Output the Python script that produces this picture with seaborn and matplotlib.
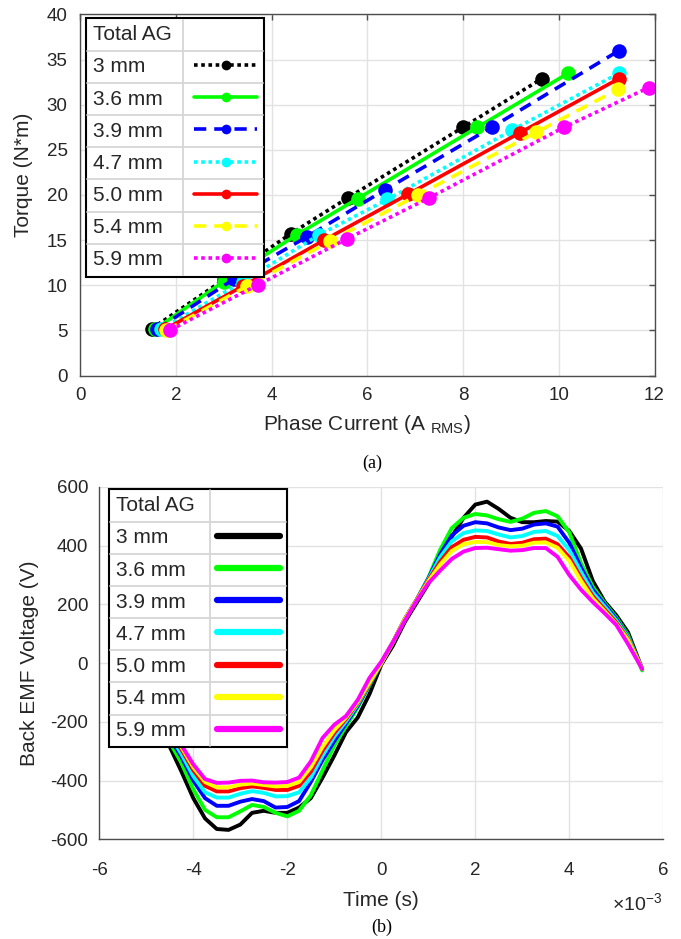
import numpy as np
import pandas as pd
import matplotlib
matplotlib.use("Agg")
import matplotlib.pyplot as plt
from matplotlib.lines import Line2D
from matplotlib.ticker import MultipleLocator, FuncFormatter
import seaborn as sns

# ---------------- data ----------------
series_labels = ["3 mm", "3.6 mm", "3.9 mm", "4.7 mm", "5.0 mm", "5.4 mm", "5.9 mm"]
series_colors = ["#000000", "#00ff00", "#0000ff", "#00ffff", "#ff0000", "#ffff00", "#ff00ff"]

# (a) torque vs phase current
current_3mm = [1.50, 3.00, 4.40, 5.60, 8.00, 9.65]
torque_3mm = [5.2, 10.6, 15.7, 19.7, 27.5, 32.9]
current_36mm = [1.56, 3.00, 4.53, 5.80, 8.30, 10.20]
torque_36mm = [5.1, 10.4, 15.6, 19.6, 27.5, 33.5]
current_39mm = [1.60, 3.22, 4.75, 6.38, 8.60, 11.26]
torque_39mm = [5.1, 10.7, 15.4, 20.6, 27.5, 36.0]
current_47mm = [1.69, 3.40, 5.00, 6.42, 9.03, 11.26]
torque_47mm = [5.1, 10.4, 15.6, 19.5, 27.2, 33.5]
current_50mm = [1.77, 3.40, 5.10, 6.86, 9.19, 11.26]
torque_50mm = [5.1, 9.9, 15.0, 20.1, 26.9, 32.9]
current_54mm = [1.80, 3.49, 5.23, 7.06, 9.53, 11.24]
torque_54mm = [5.0, 9.9, 14.9, 20.0, 26.95, 31.7]
current_59mm = [1.89, 3.72, 5.58, 7.30, 10.11, 11.88]
torque_59mm = [5.06, 10.05, 15.15, 19.7, 27.5, 31.9]

# (b) back EMF vs time (time in ms)
time_ms = [-5.55, -5.3, -5.0, -4.75, -4.5, -4.25, -4.0, -3.75, -3.5, -3.25, -3.0,
           -2.75, -2.5, -2.25, -2.0, -1.75, -1.5, -1.25, -1.0, -0.75, -0.5, -0.25,
           0.0, 0.25, 0.5, 0.75, 1.0, 1.25, 1.5, 1.75, 2.0, 2.25, 2.5, 2.75, 3.0,
           3.25, 3.5, 3.75, 4.0, 4.25, 4.5, 4.75, 5.0, 5.25, 5.55]
emf_3mm = [15, -100, -160, -220, -285, -370, -460, -529, -565, -568, -550,
           -510, -503, -510, -510, -492, -460, -390, -315, -235, -185, -105,
           -5, 60, 140, 205, 270, 350, 430, 495, 540, 550, 525, 495, 480,
           480, 484, 482, 450, 390, 280, 210, 163, 105, -20]
emf_36mm = [20, -95, -160, -210, -270, -340, -430, -500, -525, -525, -505,
            -483, -490, -510, -522, -503, -450, -365, -280, -215, -150, -75,
            0, 70, 150, 215, 290, 385, 460, 495, 508, 503, 490, 481, 492,
            512, 518, 500, 445, 340, 260, 205, 155, 95, -25]
emf_39mm = [18, -90, -150, -200, -255, -320, -400, -460, -486, -486, -472,
            -463, -470, -492, -490, -470, -405, -330, -265, -205, -145, -72,
            0, 72, 150, 215, 288, 370, 435, 468, 480, 476, 462, 453, 458,
            472, 476, 465, 410, 325, 250, 200, 150, 90, -20]
emf_47mm = [18, -88, -145, -193, -245, -310, -385, -440, -458, -458, -445,
            -436, -442, -454, -453, -440, -390, -315, -250, -198, -140, -70,
            0, 72, 150, 215, 285, 360, 415, 443, 452, 450, 438, 428, 433,
            447, 450, 433, 385, 310, 240, 193, 145, 88, -20]
emf_50mm = [17, -82, -138, -185, -233, -295, -365, -418, -437, -437, -426,
            -420, -425, -432, -432, -418, -370, -298, -238, -190, -135, -68,
            0, 72, 150, 215, 282, 345, 395, 420, 430, 428, 414, 406, 410,
            422, 424, 405, 360, 290, 228, 183, 138, 82, -20]
emf_54mm = [16, -79, -134, -180, -226, -287, -355, -405, -423, -423, -414,
            -410, -415, -420, -418, -405, -355, -285, -228, -185, -132, -66,
            0, 72, 150, 214, 278, 335, 382, 405, 413, 412, 402, 398, 400,
            410, 411, 393, 348, 280, 220, 177, 133, 79, -20]
emf_59mm = [15, -72, -130, -175, -220, -280, -345, -395, -408, -407, -401,
            -400, -406, -407, -405, -390, -335, -255, -210, -180, -125, -50,
            5, 72, 145, 212, 272, 315, 355, 380, 392, 393, 388, 383, 385,
            392, 392, 362, 300, 250, 208, 170, 130, 65, -20]

currents = [current_3mm, current_36mm, current_39mm, current_47mm, current_50mm, current_54mm, current_59mm]
torques = [torque_3mm, torque_36mm, torque_39mm, torque_47mm, torque_50mm, torque_54mm, torque_59mm]
emfs = [emf_3mm, emf_36mm, emf_39mm, emf_47mm, emf_50mm, emf_54mm, emf_59mm]

# ---------------- style ----------------
sns.set_theme(style="white")
plt.rcParams["font.family"] = ["Liberation Sans", "DejaVu Sans"]
plt.rcParams["axes.unicode_minus"] = False
plt.rcParams["mathtext.fontset"] = "custom"
plt.rcParams["mathtext.rm"] = "Liberation Sans"
plt.rcParams["mathtext.it"] = "Liberation Sans:italic"
plt.rcParams["mathtext.bf"] = "Liberation Sans:bold"

DOT = (0, (1, 1))
DASH = (0, (3.4, 2.2))
line_styles = [DOT, "-", DASH, DOT, "-", DASH, DOT]
SPINE = "#4d4d4d"
GRID = "#e2e2e2"
TXT = "#262626"

fig = plt.figure(figsize=(6.81, 9.39), dpi=100)
ax1 = fig.add_axes([0.1175, 0.6001, 0.8436, 0.3845])
ax2 = fig.add_axes([0.1458, 0.1062, 0.8282, 0.3752])

LEG_KW = dict(loc="upper left", borderaxespad=0, markerfirst=False, fontsize=15,
              title_fontsize=15, alignment="left", frameon=True, fancybox=False,
              framealpha=1, edgecolor="black", labelspacing=0.63, borderpad=0.35,
              handlelength=3.0, handletextpad=1.5)

# ---------------- (a) ----------------
for lab, col, ls, x, y in zip(series_labels, series_colors, line_styles, currents, torques):
    sns.lineplot(x=x, y=y, ax=ax1, color=col, linestyle=ls, lw=2.6, marker="o",
                 markersize=10.5, markeredgewidth=0, sort=False, legend=False)

ax1.set_xlim(0, 12)
ax1.set_ylim(0, 40)
ax1.xaxis.set_major_locator(MultipleLocator(2))
ax1.yaxis.set_major_locator(MultipleLocator(5))
ax1.set_axisbelow(True)
ax1.grid(True, color=GRID, lw=1.0)
for s in ax1.spines.values():
    s.set_visible(True)
    s.set_color(SPINE)
    s.set_linewidth(1.0)
ax1.tick_params(axis="both", direction="in", top=True, right=True, length=4.5,
                width=1.0, color=SPINE, labelsize=13.5, labelcolor=TXT)
ax1.tick_params(axis="x", pad=8)
ax1.tick_params(axis="y", pad=9)
ax1.set_xlabel(r"Phase Current (A $_{\mathregular{RMS}}$)", fontsize=15, color=TXT, labelpad=7)
ax1.set_ylabel("Torque (N*m)", fontsize=15, color=TXT)
ax1.yaxis.set_label_coords(-0.081, 0.555)

handles1 = [Line2D([], [], color=c, linestyle=ls, lw=2.6, marker="o", markersize=7,
                   markeredgewidth=0) for c, ls in zip(series_colors, line_styles)]
leg1 = ax1.legend(handles1, series_labels, title="Total AG",
                  bbox_to_anchor=(0.0104, 0.990), numpoints=1, **LEG_KW)
leg1.get_frame().set_linewidth(1.5)

# ---------------- (b) ----------------
time_s = [t * 1e-3 for t in time_ms]
for lab, col, v in zip(series_labels, series_colors, emfs):
    sns.lineplot(x=time_s, y=v, ax=ax2, color=col, lw=2.8, sort=False, legend=False)

ax2.set_xlim(-6e-3, 6e-3)
ax2.set_ylim(-600, 600)
ax2.xaxis.set_major_locator(MultipleLocator(2e-3))
ax2.yaxis.set_major_locator(MultipleLocator(200))
ax2.xaxis.set_major_formatter(FuncFormatter(lambda v, p: "%d" % round(v * 1e3)))
ax2.set_axisbelow(True)
ax2.grid(True, color=GRID, lw=1.0)
ax2.spines["top"].set_visible(False)
ax2.spines["right"].set_visible(False)
for k in ("left", "bottom"):
    ax2.spines[k].set_visible(True)
    ax2.spines[k].set_color(SPINE)
    ax2.spines[k].set_linewidth(1.0)
ax2.tick_params(axis="both", direction="in", length=4.5, width=1.0, color=SPINE,
                labelsize=13.5, labelcolor=TXT)
ax2.tick_params(axis="x", pad=16)
ax2.tick_params(axis="y", pad=8)
ax2.set_xlabel("Time (s)", fontsize=15, color=TXT, labelpad=9)
ax2.set_ylabel("Back EMF Voltage (V)", fontsize=15, color=TXT, labelpad=8)
fig.text(662 / 681, 1 - 903 / 939, r"$\times\mathdefault{10^{-3}}$", ha="right",
         va="center", fontsize=14, color=TXT)

handles2 = [Line2D([], [], color=c, lw=4.5) for c in series_colors]
leg2 = ax2.legend(handles2, series_labels, title="Total AG",
                  bbox_to_anchor=(0.0172, 0.9943), **LEG_KW)
leg2.get_frame().set_linewidth(1.5)

# captions
fig.text(372 / 681, 1 - 463 / 939, "(a)", ha="center", va="center",
         family="Liberation Serif", fontsize=13, color="black")
fig.text(382 / 681, 1 - 927 / 939, "(b)", ha="center", va="center",
         family="Liberation Serif", fontsize=13, color="black")


def left_align_labels(leg):
    """Labels left-aligned in their column, handles in a common column on the right."""
    fig.canvas.draw()
    r = fig.canvas.get_renderer()
    dpicor = r.points_to_pixels(1.0)
    for col in leg._legend_handle_box.get_children():
        col.align = "left"
        items = col.get_children()
        ws = [it.get_children()[0].get_bbox(r).width for it in items]
        mw = max(ws)
        for it, w in zip(items, ws):
            it.sep = it.sep + (mw - w) / dpicor


# table-like cell separators inside the legends (MATLAB style)
def add_table_lines(leg):
    fig.canvas.draw()
    r = fig.canvas.get_renderer()
    fb = leg.get_frame().get_window_extent(r)
    boxes = [leg.get_title().get_window_extent(r)] + [t.get_window_extent(r) for t in leg.get_texts()]
    ys = [(b.y0 + b.y1) / 2 for b in boxes]
    hx = min(h.get_window_extent(r).x0 for h in leg.legend_handles)
    inv = fig.transFigure.inverted()
    inset = 1.5
    segs = []
    for a, b in zip(ys[:-1], ys[1:]):
        y = (a + b) / 2
        segs.append(((fb.x0 + inset, y), (fb.x1 - inset, y)))
    xs = hx - 7
    segs.append(((xs, fb.y0 + inset), (xs, fb.y1 - inset)))
    for p0, p1 in segs:
        q0 = inv.transform(p0)
        q1 = inv.transform(p1)
        fig.add_artist(Line2D([q0[0], q1[0]], [q0[1], q1[1]], transform=fig.transFigure,
                              color="#d6d6d6", lw=1.3, zorder=10))


left_align_labels(leg1)
left_align_labels(leg2)
add_table_lines(leg1)
add_table_lines(leg2)

fig.savefig("out.png", dpi=100)
